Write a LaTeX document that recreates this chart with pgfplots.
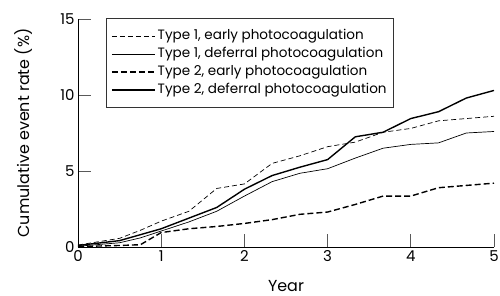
\documentclass[border=0pt]{standalone}
\usepackage{pgfplots}
\pgfplotsset{compat=1.18}
\usepackage{fontspec}
\setmainfont{Poppins}
\begin{document}
\begin{tikzpicture}
\begin{axis}[
  name=ax,
  scale only axis,
  width=416bp, height=228bp,
  xmin=0, xmax=5, ymin=0, ymax=15,
  axis lines=left,
  axis line style={-, line width=0.9pt},
  xtick={0,1,2,3,4,5}, ytick={0,5,10,15},
  tick align=inside,
  major tick length=13bp,
  tick style={black!65, line width=0.8pt},
  /pgf/number format/assume math mode=true,
  tick label style={font=\fontsize{15}{17}\selectfont},
  xticklabel style={yshift=0bp},
  label style={font=\fontsize{16}{19}\selectfont},
  xlabel={Year},
  ylabel={Cumulative event rate (\%)},
  xlabel style={at={(axis description cs:0.5,-0.197)}, anchor=base, inner sep=0pt},
  ylabel style={at={(axis description cs:-0.13,0.5)}, anchor=center},
  clip=false,
  legend cell align=left,
  legend image code/.code={\draw[#1] (0bp,0bp) -- (43bp,0bp);},
  legend style={at={(axis description cs:0.0673,1.003)}, anchor=north west,
    draw=black!80, line width=0.6pt,
    font=\fontsize{13.6}{15}\selectfont,
    inner xsep=5bp, inner ysep=8.5bp, row sep=0pt,
    nodes={inner ysep=2bp, text height=10bp, text depth=4bp}},
]
\addplot[black, line width=0.7pt, dash pattern=on 5bp off 3bp] coordinates {
(0,0.13) (0.5,0.57) (0.75,1.1) (1,1.7) (1.333,2.35) (1.667,3.85) (2,4.15) (2.333,5.5) (2.667,6.0) (3,6.6) (3.333,6.9) (3.667,7.55) (4,7.8) (4.333,8.3) (4.667,8.45) (5,8.6)};
\addlegendentry{Type 1, early photocoagulation}
\addplot[black, line width=0.7pt] coordinates {
(0,0.05) (0.5,0.28) (0.75,0.6) (1,1.05) (1.333,1.65) (1.667,2.35) (2,3.35) (2.333,4.3) (2.667,4.85) (3,5.15) (3.333,5.85) (3.667,6.5) (4,6.75) (4.333,6.85) (4.667,7.5) (5,7.6)};
\addlegendentry{Type 1, deferral photocoagulation}
\addplot[black, line width=1.4pt, dash pattern=on 6bp off 3bp] coordinates {
(0,0.03) (0.5,0.1) (0.75,0.15) (1,0.95) (1.333,1.2) (1.667,1.35) (2,1.55) (2.333,1.8) (2.667,2.15) (3,2.3) (3.333,2.8) (3.667,3.35) (4,3.35) (4.333,3.9) (4.667,4.05) (5,4.2)};
\addlegendentry{Type 2, early photocoagulation}
\addplot[black, line width=1.4pt] coordinates {
(0,0.1) (0.5,0.42) (1,1.2) (1.333,1.9) (1.667,2.6) (2,3.8) (2.333,4.7) (2.667,5.25) (3,5.75) (3.333,7.25) (3.667,7.55) (4,8.45) (4.333,8.9) (4.667,9.8) (5,10.3)};
\addlegendentry{Type 2, deferral photocoagulation}
\end{axis}
\pgfresetboundingbox
\path ([xshift=-78bp,yshift=-49bp]ax.south west) rectangle ([xshift=422bp,yshift=247bp]ax.south west);
\end{tikzpicture}
\end{document}
